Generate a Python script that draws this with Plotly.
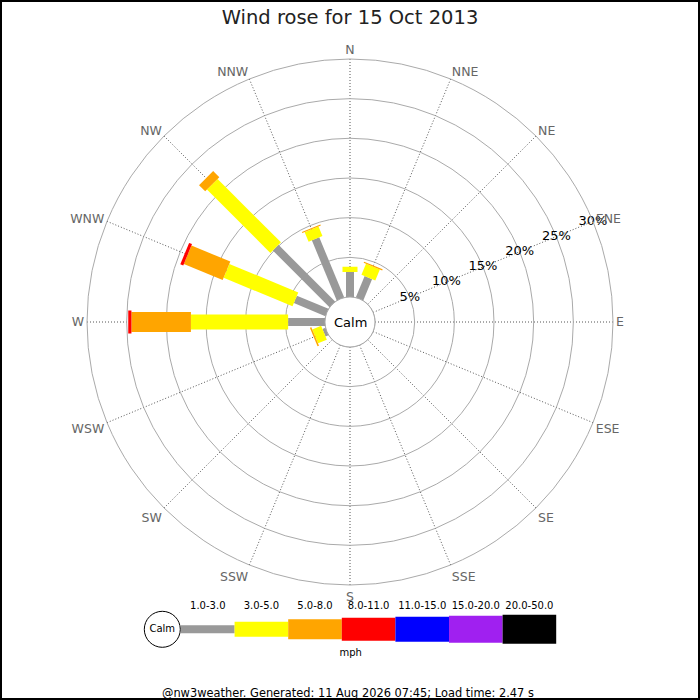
import plotly.graph_objects as go

DIRECTIONS = ['N', 'NNE', 'NE', 'ENE', 'E', 'ESE', 'SE', 'SSE',
              'S', 'SSW', 'SW', 'WSW', 'W', 'WNW', 'NW', 'NNW']
SPEED_BINS = ['1.0-3.0', '3.0-5.0', '5.0-8.0', '8.0-11.0',
              '11.0-15.0', '15.0-20.0', '20.0-50.0']
BIN_COLORS = ['#999999', '#FFFF00', '#FFA500', '#FF0000',
              '#0000FF', '#A020F0', '#000000']
BIN_WIDTHS = [8, 15, 20, 23, 25, 27, 29]

# frequency (%) per direction per speed bin
FREQ_1_3 = [3.15, 2.9, 0, 0, 0, 0, 0, 0, 0, 0, 0, 0.4, 4.65, 4.3, 10.1, 8.2]
FREQ_3_5 = [0.65, 1.5, 0, 0, 0, 0, 0, 0, 0, 0, 0, 1.2, 12.25, 9.4, 11.3, 1.3]
FREQ_5_8 = [0, 0.15, 0, 0, 0, 0, 0, 0, 0, 0, 0, 0.2, 7.5, 5.3, 1.1, 0.15]
FREQ_8_11 = [0, 0, 0, 0, 0, 0, 0, 0, 0, 0, 0, 0, 0.4, 0.4, 0, 0]
FREQ_11_15 = [0] * 16
FREQ_15_20 = [0] * 16
FREQ_20_50 = [0] * 16
FREQS = [FREQ_1_3, FREQ_3_5, FREQ_5_8, FREQ_8_11, FREQ_11_15, FREQ_15_20, FREQ_20_50]

RADIAL_TICKS = [5, 10, 15, 20, 25, 30]
RADIAL_TICK_TEXT = ['5%', '10%', '15%', '20%', '25%', '30%']

TITLE = 'Wind rose for 15 Oct 2013'
FOOTER = '@nw3weather. Generated: 11 Aug 2026 07:45; Load time: 2.47 s'
UNITS = 'mph'

FONT = 'DejaVu Sans'
W, H = 700, 700
CX, CY, R_OUT, R_HOLE = 350, 322, 263, 25

angles = [i * 22.5 for i in range(len(DIRECTIONS))]

fig = go.Figure()

# calm circle (r = 0 ring)
circ_t = [a for a in range(0, 361, 3)]
fig.add_trace(go.Scatterpolar(r=[0] * len(circ_t), theta=circ_t, mode='lines',
                              line=dict(color='#aaaaaa', width=1),
                              hoverinfo='skip', showlegend=False))

cum = [0.0] * len(DIRECTIONS)
for b, freq in enumerate(FREQS):
    rs, ts = [], []
    for i, f in enumerate(freq):
        if f > 0:
            rs += [cum[i], cum[i] + f, None]
            ts += [angles[i], angles[i], None]
            cum[i] += f
    if rs:
        fig.add_trace(go.Scatterpolar(r=rs, theta=ts, mode='lines',
                                      line=dict(color=BIN_COLORS[b], width=BIN_WIDTHS[b]),
                                      connectgaps=False, hoverinfo='skip',
                                      showlegend=False))

# radial tick labels along ENE
fig.add_trace(go.Scatterpolar(r=RADIAL_TICKS, theta=[67.5] * len(RADIAL_TICKS),
                              mode='text', text=RADIAL_TICK_TEXT,
                              textposition='middle center',
                              textfont=dict(family=FONT, size=13, color='black'),
                              hoverinfo='skip', showlegend=False))

# legend strip (cartesian)
LX0, LSEG = 181, 53.6
seg_centers = [LX0 + LSEG * (i + 0.5) for i in range(len(SPEED_BINS))]
fig.add_trace(go.Bar(x=seg_centers, y=BIN_WIDTHS, base=[-w / 2 for w in BIN_WIDTHS],
                     width=LSEG, marker=dict(color=BIN_COLORS, line=dict(width=0)),
                     xaxis='x', yaxis='y', hoverinfo='skip', showlegend=False))
fig.add_trace(go.Scatter(x=[162.3], y=[0], mode='markers+text', text=['Calm'],
                         textposition='middle center',
                         textfont=dict(family=FONT, size=10, color='black'),
                         marker=dict(size=36, color='white', line=dict(color='black', width=1)),
                         xaxis='x', yaxis='y', hoverinfo='skip', showlegend=False))
fig.add_trace(go.Scatter(x=seg_centers, y=[22.6] * len(SPEED_BINS), mode='text',
                         text=SPEED_BINS, textposition='middle center',
                         textfont=dict(family=FONT, size=10, color='black'),
                         xaxis='x', yaxis='y', hoverinfo='skip', showlegend=False))
fig.add_trace(go.Scatter(x=[350.7], y=[-24], mode='text', text=[UNITS],
                         textposition='middle center',
                         textfont=dict(family=FONT, size=10, color='black'),
                         xaxis='x', yaxis='y', hoverinfo='skip', showlegend=False))

fig.update_layout(
    width=W, height=H, autosize=False,
    margin=dict(l=0, r=0, t=0, b=0),
    paper_bgcolor='white', plot_bgcolor='white',
    font=dict(family=FONT),
    showlegend=False,
    title=dict(text=TITLE, x=0.5, xanchor='center', y=1 - 17 / H, yanchor='middle',
               font=dict(family=FONT, size=19.5, color='#222222')),
    polar=dict(
        domain=dict(x=[(CX - R_OUT) / W, (CX + R_OUT) / W],
                    y=[(H - CY - R_OUT) / H, (H - CY + R_OUT) / H]),
        hole=R_HOLE / R_OUT,
        bgcolor='white',
        radialaxis=dict(range=[0, 30], tickvals=RADIAL_TICKS, showticklabels=False,
                        ticks='', showline=False, gridcolor='#aaaaaa', gridwidth=1),
        angularaxis=dict(rotation=90, direction='clockwise', tickmode='array',
                         tickvals=angles, ticktext=DIRECTIONS, ticks='',
                         showline=True, linecolor='#aaaaaa', linewidth=1,
                         gridcolor='#555555', griddash='1px,2px', gridwidth=1,
                         tickfont=dict(family=FONT, size=12.5, color='#666666')),
    ),
    xaxis=dict(domain=[130 / W, 580 / W], range=[130, 580], visible=False, fixedrange=True),
    yaxis=dict(domain=[30 / H, 110 / H], range=[-40.7, 39.3], visible=False, fixedrange=True),
    annotations=[
        dict(text='Calm', x=CX / W, y=(H - CY) / H, xref='paper', yref='paper',
             showarrow=False, xanchor='center', yanchor='middle',
             font=dict(family=FONT, size=13, color='black')),
        dict(text=FOOTER, x=348 / W, y=(H - 692.7) / H, xref='paper', yref='paper',
             showarrow=False, xanchor='center', yanchor='middle',
             font=dict(family=FONT, size=11.4, color='black')),
    ],
    shapes=[dict(type='rect', xref='paper', yref='paper', x0=0, y0=0, x1=1, y1=1,
                 line=dict(color='black', width=4), fillcolor='rgba(0,0,0,0)')],
)

fig.write_html('out.html', config={'displayModeBar': False},
               post_script="document.body.style.margin='0';document.body.style.overflow='hidden';")
